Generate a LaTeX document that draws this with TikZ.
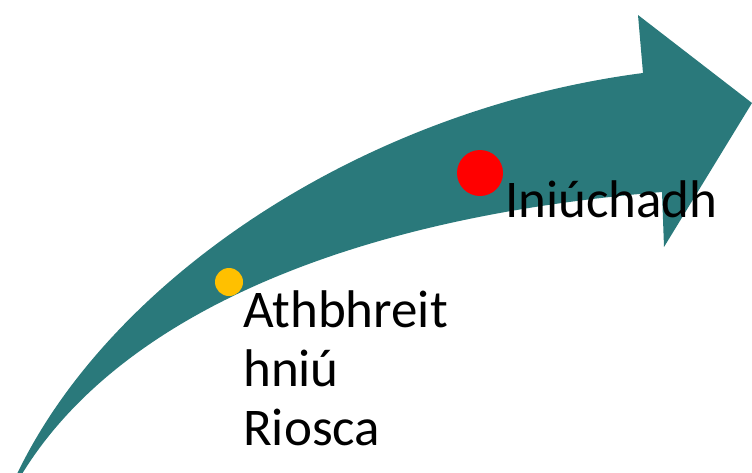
\documentclass[tikz,border=0pt]{standalone}
\usepackage{fontspec}
\setmainfont{Carlito}
\definecolor{teal1}{HTML}{2A797B}
\definecolor{dotyellow}{HTML}{FFC000}
\definecolor{dotred}{HTML}{FF0000}
\begin{document}
\begin{tikzpicture}[x=1pt,y=-1pt,
  lbl/.style={font=\fontsize{53}{59}\selectfont, inner sep=0pt, align=left, text=black},
  dot/.style={draw=none}]
\useasboundingbox (0,0) rectangle (752,472);
\clip (0,0) rectangle (752,472);
% curved arrow
\fill[teal1] (17,474) .. controls (110,280) and (360,110) .. (643,73)
  -- (638,15) -- (752,103) -- (664,247) -- (662,192)
  .. controls (342,218) and (117,319) .. (22,474) -- cycle;
% dots
\fill[dotyellow] (229,282) circle[radius=14pt];
\fill[dotred] (480,173) circle[radius=23pt];
\coordinate (ydot) at (229,282);
\coordinate (rdot) at (480,173);
% labels
\node[lbl, anchor=base west] (t1) at (243,445) {Athbhreit\\hniú\\Riosca};
\node[lbl, anchor=base west] (t2) at (505,217) {Iniúchadh};
\end{tikzpicture}
\end{document}
